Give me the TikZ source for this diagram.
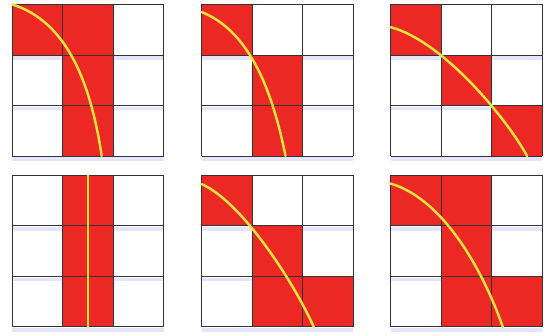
\documentclass[tikz,border=0pt]{standalone}
\usepackage{tikz}
\definecolor{cellred}{RGB}{236,40,37}
\definecolor{curveyellow}{RGB}{230,226,62}

\begin{document}
\begin{tikzpicture}[
    x=1cm, y=1cm,
    hit/.style={fill=cellred},
    glow/.style={draw=blue!30, line width=2pt, opacity=0.35},
    gridline/.style={draw=black!80, line width=0.55pt},
    curve/.style={draw=curveyellow, line width=1.4pt, line cap=round}
]
\useasboundingbox (0,0) rectangle (10.792,6.653);

% Top left
\begin{scope}[shift={(0.244,3.564)}]
\foreach \y in {0,1,2} \draw[glow] (0,\y-0.06) -- (3,\y-0.06);
\fill[hit] (0,2) rectangle (2,3);
\fill[hit] (1,0) rectangle (2,2);
\draw[gridline] (0,0) grid (3,3);
\draw[curve] (0,3) .. controls (1.1,2.66) and (1.56,1.4) .. (1.77,0);
\end{scope}

% Top middle
\begin{scope}[shift={(3.994,3.564)}]
\foreach \y in {0,1,2} \draw[glow] (0,\y-0.06) -- (3,\y-0.06);
\fill[hit] (0,2) rectangle (1,3);
\fill[hit] (1,0) rectangle (2,2);
\draw[gridline] (0,0) grid (3,3);
\draw[curve] (0,2.85) .. controls (0.9,2.49) and (1.38,1.4) .. (1.66,0);
\end{scope}

% Top right
\begin{scope}[shift={(7.737,3.564)}]
\foreach \y in {0,1,2} \draw[glow] (0,\y-0.06) -- (3,\y-0.06);
\fill[hit] (0,2) rectangle (1,3);
\fill[hit] (1,1) rectangle (2,2);
\fill[hit] (2,0) rectangle (3,1);
\draw[gridline] (0,0) grid (3,3);
\draw[curve] (0,2.55) .. controls (1,2.29) and (2.26,0.8) .. (2.7,0);
\end{scope}

% Bottom left
\begin{scope}[shift={(0.244,0.178)}]
\foreach \y in {0,1,2} \draw[glow] (0,\y-0.06) -- (3,\y-0.06);
\fill[hit] (1,0) rectangle (2,3);
\draw[gridline] (0,0) grid (3,3);
\draw[curve] (1.5,0) -- (1.5,3);
\end{scope}

% Bottom middle
\begin{scope}[shift={(3.994,0.178)}]
\foreach \y in {0,1,2} \draw[glow] (0,\y-0.06) -- (3,\y-0.06);
\fill[hit] (0,2) rectangle (1,3);
\fill[hit] (1,0) rectangle (2,2);
\fill[hit] (2,0) rectangle (3,1);
\draw[gridline] (0,0) grid (3,3);
\draw[curve] (0,2.83) .. controls (0.8,2.47) and (1.815,0.9) .. (2.22,0);
\end{scope}

% Bottom right
\begin{scope}[shift={(7.737,0.178)}]
\foreach \y in {0,1,2} \draw[glow] (0,\y-0.06) -- (3,\y-0.06);
\fill[hit] (0,2) rectangle (2,3);
\fill[hit] (1,0) rectangle (2,2);
\fill[hit] (2,0) rectangle (3,1);
\draw[gridline] (0,0) grid (3,3);
\draw[curve] (0,2.84) .. controls (1.1,2.51) and (1.87,1.0) .. (2.22,0);
\end{scope}

\end{tikzpicture}
\end{document}
